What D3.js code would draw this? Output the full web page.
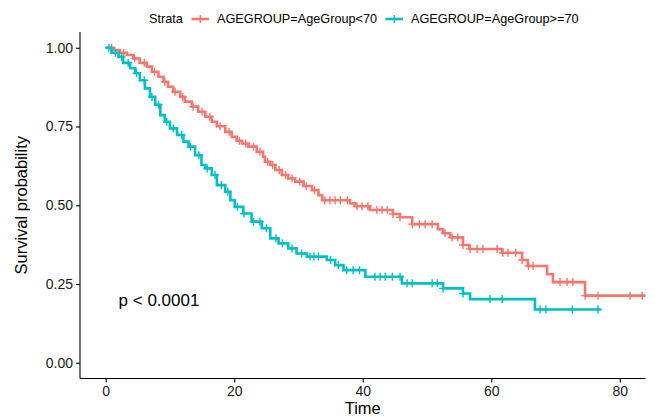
<!DOCTYPE html>
<html>
<head>
<meta charset="utf-8">
<script src="https://cdn.jsdelivr.net/npm/d3@7"></script>
<style>
  body { margin: 0; background: #fff; }
  svg { display: block; font-family: "Liberation Sans", Arial, sans-serif; }
</style>
</head>
<body>
<svg id="chart" width="660" height="417"></svg>
<script>
// strata labels and colours
const strata = ["AGEGROUP=AgeGroup<70", "AGEGROUP=AgeGroup>=70"]
const colors = ["#F8766D", "#00BFC4"]

// AgeGroup<70 : step times and survival after each step
const timeLt70 = [0, 1.2, 2.2, 3.3, 4.3, 5.3, 6.4, 7.2, 8.2, 9.0, 9.7, 10.5, 11.6, 12.3, 13.4, 14.4, 15.5, 16.5, 17.3,
  18.6, 19.6, 20.4, 21.2, 22.2, 23.5, 24.5, 24.8, 25.6, 26.4, 27.4, 28.4, 29.5, 30.8, 32.1, 33.1, 33.7, 38.0, 38.8,
  41.1, 44.7, 45.8, 47.7, 51.7, 52.5, 53.6, 55.6, 56.6, 61.7, 64.8, 65.7, 68.7, 69.6, 74.6]
const survLt70 = [1.0, 0.993, 0.984, 0.977, 0.966, 0.952, 0.940, 0.924, 0.908, 0.892, 0.876, 0.860, 0.844, 0.829, 0.813,
  0.797, 0.781, 0.765, 0.751, 0.733, 0.717, 0.705, 0.696, 0.686, 0.670, 0.654, 0.638, 0.628, 0.612, 0.596, 0.585,
  0.575, 0.561, 0.548, 0.532, 0.516, 0.506, 0.497, 0.485, 0.472, 0.462, 0.440, 0.424, 0.411, 0.398, 0.374, 0.361,
  0.349, 0.326, 0.307, 0.281, 0.256, 0.213]
const endLt70 = 84
const censorLt70 = [0.9, 2.8, 4.5, 6.0, 7.6, 9.2, 10.8, 12.0, 13.6, 15.0, 16.2, 17.8, 19.2, 20.8, 21.8, 23.0, 24.0,
  25.2, 26.0, 27.0, 28.0, 29.0, 30.2, 31.2, 32.5, 34.1, 34.9, 35.7, 36.5, 37.6, 39.1, 39.9, 40.8, 42.2, 43.0, 43.8,
  44.7, 45.8, 47.7, 48.8, 49.7, 50.8, 52.8, 53.9, 54.8, 55.6, 56.7, 57.8, 58.7, 60.9, 61.8, 62.6, 63.8, 64.8, 65.8,
  66.5, 70.7, 71.8, 72.7, 74.6, 76.6, 81.6, 83.5]

// AgeGroup>=70
const timeGe70 = [0, 0.9, 2.0, 2.7, 3.8, 4.6, 5.3, 6.1, 6.9, 7.7, 8.5, 9.2, 10.0, 11.1, 12.1, 12.9, 13.9, 14.9, 15.5,
  16.5, 17.3, 18.6, 19.4, 20.1, 21.4, 22.7, 24.3, 25.6, 26.9, 28.4, 29.7, 31.3, 34.4, 35.7, 37.0, 40.4, 46.1, 52.5,
  55.6, 56.7, 66.8]
const survGe70 = [1.0, 0.984, 0.971, 0.952, 0.935, 0.919, 0.897, 0.871, 0.844, 0.819, 0.786, 0.765, 0.744, 0.723,
  0.702, 0.686, 0.659, 0.628, 0.617, 0.596, 0.564, 0.543, 0.516, 0.495, 0.474, 0.448, 0.427, 0.395, 0.379, 0.363,
  0.347, 0.337, 0.326, 0.310, 0.294, 0.273, 0.252, 0.236, 0.220, 0.202, 0.169]
const endGe70 = 77.0
const censorGe70 = [0.5, 1.5, 2.5, 3.5, 4.8, 6.0, 7.2, 8.2, 9.5, 10.5, 11.8, 13.2, 14.5, 15.8, 17.0, 18.0, 19.0, 20.5,
  21.5, 23.0, 24.0, 25.0, 26.5, 27.5, 29.0, 30.5, 31.8, 32.4, 33.1, 35.0, 36.2, 37.5, 38.5, 39.5, 41.9, 42.7, 43.5,
  44.6, 45.8, 46.9, 47.7, 50.8, 51.6, 52.5, 55.6, 59.8, 61.7, 67.6, 68.5, 72.6, 76.6]

const xTicks = [0, 20, 40, 60, 80]
const yTicks = [0, 0.25, 0.5, 0.75, 1]
const pvalText = "p < 0.0001"

const svg = d3.select("#chart")
const pLeft = 80, pRight = 645.5, pTop = 32, pBottom = 378.5

let x = d3.scaleLinear().domain([-4, 84]).range([pLeft, pRight])
let y = d3.scaleLinear().domain([-0.05, 1.05]).range([pBottom, pTop])

svg.append("clipPath").attr("id", "panel")
  .append("rect").attr("x", pLeft).attr("y", pTop - 5).attr("width", pRight - pLeft).attr("height", pBottom - pTop + 5)

// survival curves
const groups = [
  { times: timeLt70, surv: survLt70, end: endLt70, censor: censorLt70 },
  { times: timeGe70, surv: survGe70, end: endGe70, censor: censorGe70 }
]

function survAt(g, t) {
  let i = d3.bisectRight(g.times, t) - 1
  return g.surv[Math.max(i, 0)]
}

let line = d3.line().x(d => x(d[0])).y(d => y(d[1])).curve(d3.curveStepAfter)
let plot = svg.append("g").attr("clip-path", "url(#panel)")

groups.forEach((g, k) => {
  let pts = g.times.map((t, i) => [t, g.surv[i]])
  pts.push([g.end, g.surv[g.surv.length - 1]])
  plot.append("path")
    .attr("d", line(pts))
    .attr("fill", "none")
    .attr("stroke", colors[k])
    .attr("stroke-width", 2.6)

  let marks = plot.append("g")
  g.censor.forEach(t => {
    let cx = x(t), cy = y(survAt(g, t))
    marks.append("path")
      .attr("d", `M${cx - 4},${cy}H${cx + 4}M${cx},${cy - 4}V${cy + 4}`)
      .attr("stroke", colors[k])
      .attr("stroke-width", 1.4)
  })
})

// axes
let xAxis = svg.append("g").attr("transform", `translate(0,${pBottom})`)
  .call(d3.axisBottom(x).tickValues(xTicks).tickSize(4).tickPadding(4))
let yAxis = svg.append("g").attr("transform", `translate(${pLeft},0)`)
  .call(d3.axisLeft(y).tickValues(yTicks).tickFormat(d3.format(".2f")).tickSize(4).tickPadding(3))

xAxis.select(".domain").attr("d", `M${pLeft},0H${pRight}`)
yAxis.select(".domain").attr("d", `M0,${pTop}V${pBottom}`)
svg.selectAll(".domain").attr("stroke", "#000").attr("stroke-width", 1.1)
svg.selectAll(".tick line").attr("stroke", "#000").attr("stroke-width", 1.1)
svg.selectAll(".tick text").attr("fill", "#1a1a1a").style("font-size", "14px")
  .style("font-family", "'Liberation Sans', Arial, sans-serif")

svg.append("text")
  .attr("x", (pLeft + pRight) / 2).attr("y", 414)
  .attr("text-anchor", "middle")
  .style("font-size", "16.5px")
  .text("Time")

svg.append("text")
  .attr("transform", `translate(27,${(pTop + pBottom) / 2}) rotate(-90)`)
  .attr("text-anchor", "middle")
  .style("font-size", "16.5px")
  .text("Survival probability")

svg.append("text")
  .attr("x", x(2)).attr("y", y(0.2) + 6)
  .style("font-size", "17px")
  .text(pvalText)

// legend at top
let legend = svg.append("g").attr("transform", "translate(0,19)")
legend.append("text").attr("x", 149).attr("dy", "0.35em")
  .style("font-size", "12.7px").text("Strata")
let keyX = [191.5, 385.5]
strata.forEach((s, k) => {
  let kx = keyX[k]
  legend.append("path")
    .attr("d", `M${kx},0H${kx + 17.5}`)
    .attr("stroke", colors[k]).attr("stroke-width", 2.6)
  legend.append("path")
    .attr("d", `M${kx + 4.75},0H${kx + 12.75}M${kx + 8.75},-4V4`)
    .attr("stroke", colors[k]).attr("stroke-width", 1.4)
  legend.append("text").attr("x", kx + 25.5).attr("dy", "0.35em")
    .style("font-size", "12.7px").text(s)
})
</script>
</body>
</html>
